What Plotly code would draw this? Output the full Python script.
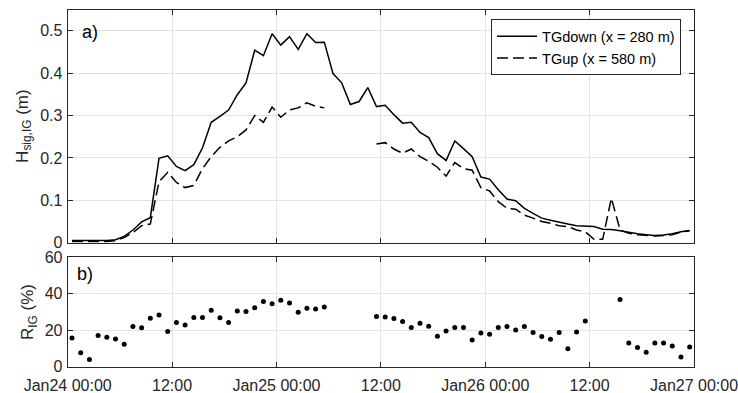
import pandas as pd
import plotly.graph_objects as go

nan = None

# hourly samples (hh:30) from Jan24 00:30 to Jan26 23:30
times = pd.date_range("2018-01-24 00:30", periods=72, freq="h")

hs_down = [0.005, 0.005, 0.005, 0.005, 0.005, 0.007, 0.015, 0.030, 0.049, 0.059,
           0.199, 0.205, 0.180, 0.170, 0.184, 0.224, 0.284, 0.298, 0.313, 0.349,
           0.377, 0.454, 0.441, 0.493, 0.466, 0.486, 0.456, 0.493, 0.472, 0.473,
           0.399, 0.377, 0.326, 0.333, 0.366, 0.321, 0.324, 0.302, 0.282, 0.284,
           0.260, 0.248, 0.210, 0.194, 0.240, 0.222, 0.203, 0.155, 0.150, 0.125,
           0.103, 0.099, 0.081, 0.069, 0.058, 0.053, 0.048, 0.044, 0.040, 0.039,
           0.038, 0.032, 0.031, 0.028, 0.024, 0.021, 0.019, 0.017, 0.018, 0.021,
           0.026, 0.029]

hs_up = [0.003, 0.003, 0.003, 0.003, 0.003, 0.005, 0.012, 0.024, 0.040, 0.044,
         0.144, 0.166, 0.142, 0.130, 0.135, 0.175, 0.203, 0.225, 0.240, 0.250,
         0.266, 0.300, 0.284, 0.320, 0.296, 0.313, 0.318, 0.330, 0.322, 0.318,
         nan, nan, nan, nan, nan, 0.233, 0.236, 0.221, 0.211, 0.221,
         0.203, 0.192, 0.178, 0.157, 0.189, 0.175, 0.171, 0.130, 0.122, 0.097,
         0.081, 0.079, 0.065, 0.058, 0.050, 0.046, 0.040, 0.038, 0.030, 0.026,
         0.008, 0.008, 0.105, 0.030, 0.022, 0.019, 0.017, 0.016, 0.017, 0.019,
         0.025, 0.028]

r_ig = [15.8, 7.7, 4.0, 17.1, 16.1, 15.2, 12.3, 22.0, 21.3, 26.6,
        28.3, 19.3, 24.2, 22.9, 27.0, 27.0, 31.0, 26.8, 24.2, 30.6,
        30.3, 32.3, 35.8, 34.5, 36.5, 35.0, 29.9, 32.1, 31.7, 32.7,
        nan, nan, nan, nan, nan, 27.5, 27.2, 26.4, 24.8, 21.5,
        23.9, 22.2, 16.7, 19.6, 21.5, 21.5, 14.7, 18.5, 17.8, 21.5,
        22.0, 20.2, 22.0, 18.7, 16.5, 15.0, 18.7, 9.9, 19.1, 25.1,
        nan, nan, nan, 36.9, 13.0, 10.5, 7.9, 13.0, 13.0, 11.4,
        5.3, 10.8]

x_tickvals = ["2018-01-24 00:00", "2018-01-24 12:00", "2018-01-25 00:00",
              "2018-01-25 12:00", "2018-01-26 00:00", "2018-01-26 12:00",
              "2018-01-27 00:00"]
x_ticktext = ["Jan24 00:00", "12:00", "Jan25 00:00", "12:00",
              "Jan26 00:00", "12:00", "Jan27 00:00"]
y1_tickvals = [0, 0.1, 0.2, 0.3, 0.4, 0.5]
y1_ticktext = ["0", "0.1", "0.2", "0.3", "0.4", "0.5"]
y2_tickvals = [0, 20, 40, 60]

FONT = "Liberation Sans, Arial, sans-serif"
AX = "#262626"
GRID = "#e3e3e3"
TICKFONT = dict(size=16, color="#262626")

fig = go.Figure()
fig.add_trace(go.Scatter(x=times, y=hs_down, mode="lines",
                         line=dict(color="black", width=1.5),
                         name="TGdown (x = 280 m)", xaxis="x", yaxis="y"))
fig.add_trace(go.Scatter(x=times, y=hs_up, mode="lines",
                         line=dict(color="black", width=1.5, dash="11px,5px"),
                         name="TGup (x = 580 m)", xaxis="x", yaxis="y"))
fig.add_trace(go.Scatter(x=times, y=r_ig, mode="markers",
                         marker=dict(color="black", size=5),
                         showlegend=False, xaxis="x2", yaxis="y2"))

common_x = dict(range=["2018-01-24 00:00", "2018-01-27 00:00"],
                tickmode="array", tickvals=x_tickvals, ticktext=x_ticktext,
                ticks="inside", ticklen=5, tickcolor=AX, showline=True,
                linecolor=AX, linewidth=1, mirror="ticks", showgrid=True,
                gridcolor=GRID, gridwidth=1, zeroline=False, automargin=False,
                tickfont=TICKFONT, ticklabeloverflow="allow")
common_y = dict(ticks="inside", ticklen=5, tickcolor=AX, showline=True,
                linecolor=AX, linewidth=1, mirror="ticks", showgrid=True,
                gridcolor=GRID, gridwidth=1, zeroline=False, automargin=False,
                tickfont=TICKFONT, ticklabelstandoff=1,
                ticklabeloverflow="allow")

fig.update_layout(
    width=738, height=393,
    margin=dict(l=0, r=0, t=0, b=0),
    paper_bgcolor="white", plot_bgcolor="white",
    font=dict(family=FONT, color="#262626"),
    xaxis=dict(domain=[0.0917, 0.9404], anchor="y", showticklabels=False,
               **common_x),
    xaxis2=dict(domain=[0.0917, 0.9404], anchor="y2", matches="x",
                showticklabels=True, ticklabelstandoff=4, **common_x),
    yaxis=dict(domain=[0.3824, 0.9758], anchor="x", range=[0, 0.55],
               tickmode="array", tickvals=y1_tickvals, ticktext=y1_ticktext,
               title=dict(text="H<sub>sig,IG</sub> (m)", font=dict(size=17),
                          standoff=7),
               **common_y),
    yaxis2=dict(domain=[0.0669, 0.3453], anchor="x2", range=[0, 60],
                tickmode="array", tickvals=y2_tickvals,
                title=dict(text="R<sub>IG</sub> (%)", font=dict(size=17),
                           standoff=6),
                **common_y),
    legend=dict(x=0.9228, xanchor="right", y=0.951, yanchor="top",
                bgcolor="white", bordercolor=AX, borderwidth=1,
                font=dict(size=14.5, color="black"), tracegroupgap=0,
                itemwidth=40),
    annotations=[
        dict(text="a)", x=80 / 738, y=1 - 32 / 393, xref="paper", yref="paper",
             xanchor="left", yanchor="middle", showarrow=False,
             font=dict(size=18, color="black")),
        dict(text="b)", x=75 / 738, y=1 - 274 / 393, xref="paper", yref="paper",
             xanchor="left", yanchor="middle", showarrow=False,
             font=dict(size=18, color="black")),
    ],
)

fig.write_html("out.html")
